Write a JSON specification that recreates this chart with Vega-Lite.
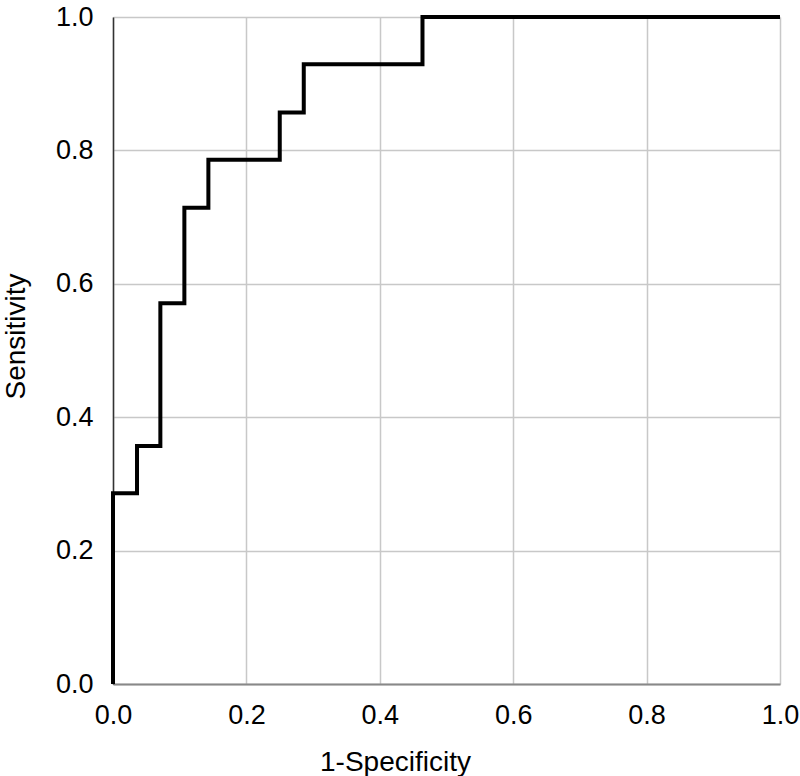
{
  "$schema": "https://vega.github.io/schema/vega-lite/v6.json",
  "width": 667,
  "height": 667,
  "autosize": {"type": "none"},
  "padding": {"left": 113, "top": 17, "right": 20, "bottom": 92},
  "background": "white",
  "config": {
    "view": {"stroke": null},
    "axis": {
      "labelFont": "Liberation Sans",
      "titleFont": "Liberation Sans",
      "labelFontSize": 27,
      "titleFontSize": 28,
      "labelColor": "#000000",
      "titleColor": "#000000",
      "titleFontWeight": "normal",
      "gridColor": "#c8c8c8",
      "gridWidth": 1.5,
      "ticks": false,
      "labelFlush": false
    }
  },
  "data": {
    "values": [
      {"i": 0, "fpr": 0.0, "tpr": 0.0},
      {"i": 1, "fpr": 0.0, "tpr": 0.286},
      {"i": 2, "fpr": 0.036, "tpr": 0.286},
      {"i": 3, "fpr": 0.036, "tpr": 0.357},
      {"i": 4, "fpr": 0.071, "tpr": 0.357},
      {"i": 5, "fpr": 0.071, "tpr": 0.571},
      {"i": 6, "fpr": 0.107, "tpr": 0.571},
      {"i": 7, "fpr": 0.107, "tpr": 0.714},
      {"i": 8, "fpr": 0.143, "tpr": 0.714},
      {"i": 9, "fpr": 0.143, "tpr": 0.786},
      {"i": 10, "fpr": 0.25, "tpr": 0.786},
      {"i": 11, "fpr": 0.25, "tpr": 0.857},
      {"i": 12, "fpr": 0.286, "tpr": 0.857},
      {"i": 13, "fpr": 0.286, "tpr": 0.929},
      {"i": 14, "fpr": 0.464, "tpr": 0.929},
      {"i": 15, "fpr": 0.464, "tpr": 1.0},
      {"i": 16, "fpr": 1.0, "tpr": 1.0}
    ]
  },
  "mark": {"type": "line", "color": "#000000", "strokeWidth": 4, "strokeJoin": "miter", "strokeCap": "butt", "clip": false},
  "encoding": {
    "x": {
      "field": "fpr", "type": "quantitative",
      "scale": {"domain": [0, 1], "nice": false},
      "axis": {"title": "1-Specificity", "format": ".1f", "values": [0, 0.2, 0.4, 0.6, 0.8, 1.0],
        "domainColor": "#888888", "domainWidth": 2, "labelPadding": 18,
        "titleX": 282, "titleY": 86, "titleAlign": "center", "titleBaseline": "alphabetic"}
    },
    "y": {
      "field": "tpr", "type": "quantitative",
      "scale": {"domain": [0, 1], "nice": false},
      "axis": {"title": "Sensitivity", "format": ".1f", "values": [0, 0.2, 0.4, 0.6, 0.8, 1.0],
        "domainColor": "#333333", "domainWidth": 1.5, "labelPadding": 20,
        "titleX": -89, "titleY": 319, "titleAlign": "center", "titleBaseline": "alphabetic", "titleAngle": -90}
    },
    "order": {"field": "i", "type": "quantitative"}
  }
}
